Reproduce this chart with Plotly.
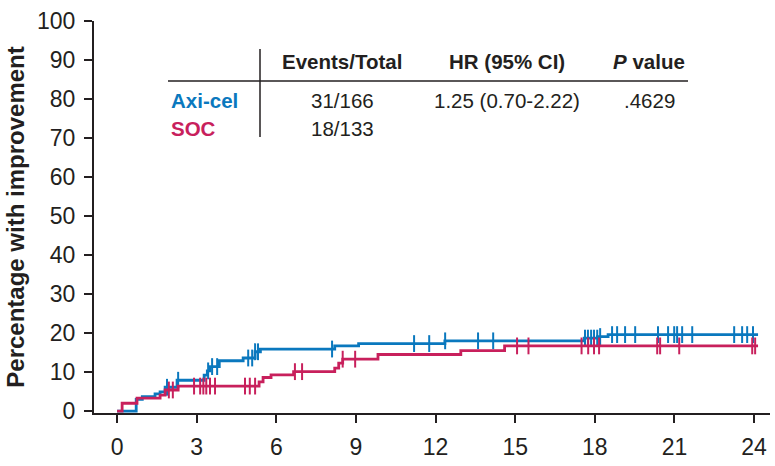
import plotly.graph_objects as go

# ---------------- data ----------------
axi_t = [0, 0.72, 0.95, 1.43, 1.62, 1.81, 2.26, 3.28, 3.4, 3.5, 3.85, 4.75, 5.2, 5.4,
         8.2, 9.1, 12.35, 17.6, 18.1, 18.5, 24.15]
axi_v = [0, 3.0, 3.7, 4.4, 4.9, 6.1, 7.9, 9.2, 10.3, 11.4, 12.9, 13.6, 15.2, 15.9,
         16.7, 17.3, 18.0, 18.7, 19.1, 19.6, 19.6]
axi_cens = [1.88, 2.3, 3.43, 3.58, 3.77, 4.94, 5.09, 5.2, 5.31, 8.1, 11.19, 11.76, 12.36,
            13.6, 14.17, 17.63, 17.74, 17.86, 17.97, 18.09, 18.2, 18.65, 18.84, 19.14,
            19.52, 20.38, 20.76, 20.99, 21.1, 21.29, 21.67, 23.25, 23.55, 23.74, 23.96]

soc_t = [0, 0.19, 0.75, 1.62, 1.81, 2.3, 5.35, 5.5, 5.8, 6.65, 8.2, 8.35, 8.5, 9.83,
         12.95, 14.6, 24.15]
soc_v = [0, 2.0, 3.3, 4.1, 5.4, 6.4, 7.5, 8.6, 9.3, 10.1, 11.0, 12.3, 13.3, 14.5,
         15.5, 16.7, 16.7]
soc_cens = [1.95, 2.1, 2.9, 3.13, 3.25, 3.36, 3.5, 3.69, 4.82, 5.0, 5.2, 6.7, 6.97, 8.5,
            8.97, 15.07, 15.5, 17.5, 17.75, 17.97, 18.16, 20.35, 20.46, 21.18, 23.93, 24.04]

x_ticks = [0, 3, 6, 9, 12, 15, 18, 21, 24]
y_ticks = [0, 10, 20, 30, 40, 50, 60, 70, 80, 90, 100]

table_header = ["Events/Total", "HR (95% CI)", "<i>P</i> value"]
groups = ["Axi-cel", "SOC"]
events = ["31/166", "18/133"]
hr_text = "1.25 (0.70-2.22)"
p_text = ".4629"

BLUE = "#0a78be"
RED = "#c8205c"
DARK = "#231f20"
FONT = "Liberation Sans, Arial, Helvetica, sans-serif"
TFS = 20.5


def step_at(ts, vs, c):
    val = vs[0]
    for t, v in zip(ts, vs):
        if t <= c:
            val = v
    return val


fig = go.Figure()
for ts, vs, cens, col, name in [(axi_t, axi_v, axi_cens, BLUE, "Axi-cel"),
                                (soc_t, soc_v, soc_cens, RED, "SOC")]:
    fig.add_trace(go.Scatter(x=ts, y=vs, mode="lines", line=dict(color=col, width=2.8, shape="hv"),
                             name=name, showlegend=False, hoverinfo="skip"))
    fig.add_trace(go.Scatter(x=cens, y=[step_at(ts, vs, c) for c in cens], mode="markers",
                             marker=dict(symbol="line-ns", size=12, line=dict(color=col, width=2)),
                             showlegend=False, hoverinfo="skip"))

# plot area in pixels
L, R, T, B = 94, 770, 21, 413
W, H = 775, 466


def fx(px):
    return (px - L) / (R - L)


def fy(py):
    return (B - py) / (B - T)


ann = []
hdr_y = 61
row_y = [100, 128]
col_x = [342, 507, 649]
for cx, txt in zip(col_x, table_header):
    ann.append(dict(x=fx(cx), y=fy(hdr_y), text="<b>%s</b>" % txt, xanchor="center", yanchor="middle",
                    font=dict(size=TFS, color=DARK, family=FONT)))
for ry, g, ev, col in zip(row_y, groups, events, [BLUE, RED]):
    ann.append(dict(x=fx(169), y=fy(ry), text="<b>%s</b>" % g, xanchor="left", yanchor="middle",
                    font=dict(size=TFS, color=col, family=FONT)))
    ann.append(dict(x=fx(col_x[0]), y=fy(ry), text=ev, xanchor="center", yanchor="middle",
                    font=dict(size=TFS, color=DARK, family=FONT)))
ann.append(dict(x=fx(col_x[1]), y=fy(row_y[0]), text=hr_text, xanchor="center", yanchor="middle",
                font=dict(size=TFS, color=DARK, family=FONT)))
ann.append(dict(x=fx(col_x[2]), y=fy(row_y[0]), text=p_text, xanchor="center", yanchor="middle",
                font=dict(size=TFS, color=DARK, family=FONT)))
for a in ann:
    a.update(xref="paper", yref="paper", showarrow=False)

shapes = [
    dict(type="line", xref="paper", yref="paper", x0=fx(168), x1=fx(688), y0=fy(81), y1=fy(81),
         line=dict(color=DARK, width=1.5)),
    dict(type="line", xref="paper", yref="paper", x0=fx(260), x1=fx(260), y0=fy(49), y1=fy(137),
         line=dict(color=DARK, width=1.5)),
]

fig.update_layout(
    width=W, height=H,
    margin=dict(l=L, r=W - R, t=T, b=H - B, pad=0),
    paper_bgcolor="white", plot_bgcolor="white",
    font=dict(family=FONT, color=DARK),
    annotations=ann, shapes=shapes,
    xaxis=dict(range=[-0.87, 24.6], tickvals=x_ticks, ticktext=[str(v) for v in x_ticks],
               showgrid=False, zeroline=False, showline=True, linecolor=DARK, linewidth=2,
               ticks="outside", ticklen=8, tickwidth=2, tickcolor=DARK,
               tickfont=dict(size=23, color=DARK, family=FONT), ticklabelstandoff=4),
    yaxis=dict(range=[-0.5, 100], tickvals=y_ticks, ticktext=[str(v) for v in y_ticks],
               showgrid=False, zeroline=False, showline=True, linecolor=DARK, linewidth=2,
               ticks="outside", ticklen=8, tickwidth=2, tickcolor=DARK,
               tickfont=dict(size=23, color=DARK, family=FONT), ticklabelstandoff=4,
               title=dict(text="<b>Percentage with improvement</b>", standoff=6,
                          font=dict(size=24, color=DARK, family=FONT))),
)

fig.write_html("out.html")
